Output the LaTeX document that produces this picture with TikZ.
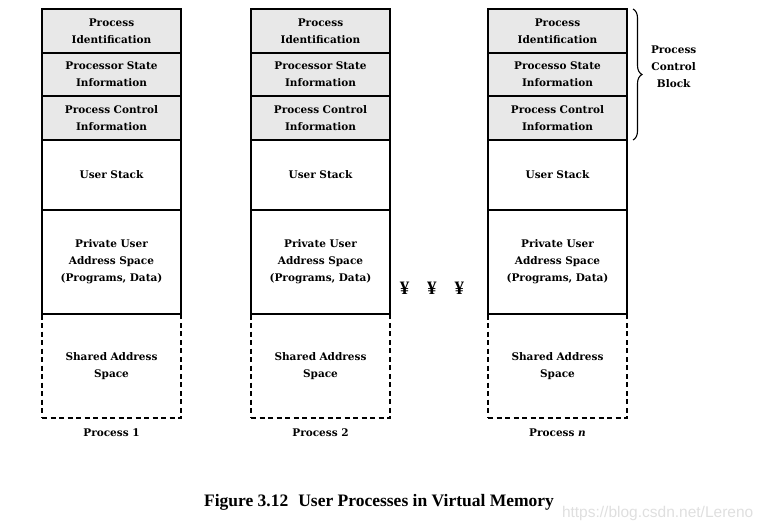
\documentclass[tikz,border=0pt]{standalone}
\usepackage{fontspec}
\setmainfont{Liberation Serif}
\newfontfamily\boxfont{DejaVu Serif}
\newfontfamily\markfont{Liberation Sans}
\usepackage{tikz}
\usetikzlibrary{positioning, calc, decorations.pathreplacing}

\begin{document}
\begin{tikzpicture}[x=1pt,y=-1pt,
	every node/.style={font=\boxfont\bfseries\fontsize{10.5}{17}\selectfont, inner sep=0pt, outer sep=0pt},
	blk/.style={draw, line width=1.3pt, minimum width=139pt, text width=137pt, align=center},
	pcb/.style={blk, fill=gray!18},
	shared/.style={blk, dash pattern=on 5pt off 3.5pt, minimum height=104pt}]
	\useasboundingbox (0,0) rectangle (766,531);
	% one column per process
	\foreach \i/\x/\st/\pn in {1/42/Processor State/1, 2/251/Processor State/2, 3/488/Processo State/\textit{n}} {
		\node[pcb, minimum height=44pt, anchor=north west] (id\i) at (\x,9) {Process\\Identification};
		\node[pcb, minimum height=43pt, below=0pt of id\i] (ps\i) {\st\\Information};
		\node[pcb, minimum height=44pt, below=0pt of ps\i] (pc\i) {Process Control\\Information};
		\node[blk, minimum height=70pt, below=0pt of pc\i] (us\i) {User Stack};
		\node[shared, below=0pt of us\i, yshift=-104pt] (sh\i) {Shared Address\\Space};
		\node[blk, minimum height=104pt, below=0pt of us\i] (pv\i) {Private User\\Address Space\\(Programs, Data)};
		\node[below=11pt of sh\i] (lbl\i) {Process \pn};
	}
	% the ones in between
	\node[font=\bfseries\fontsize{19}{19}\selectfont] (etc) at (432,288) {¥\hspace{18pt}¥\hspace{18pt}¥};
	% brace over the control block
	\draw[line width=1.1pt, decorate, decoration={brace, amplitude=9pt}] ($(id3.north east)+(6,0)$) -- ($(pc3.south east)+(6,0)$) coordinate[midway] (mid);
	\node[right=18pt of mid, yshift=8pt, align=center] (pcbl) {Process\\Control\\Block};
	\node[font=\bfseries\fontsize{17.5}{18}\selectfont] (cap) at (379,502) {Figure 3.12\hspace{10pt}User Processes in Virtual Memory};
	\node[font=\markfont\fontsize{15.5}{16}\selectfont, text=gray!25, anchor=west] (mark) at (562,513) {https://blog.csdn.net/Lereno};
\end{tikzpicture}
\end{document}
